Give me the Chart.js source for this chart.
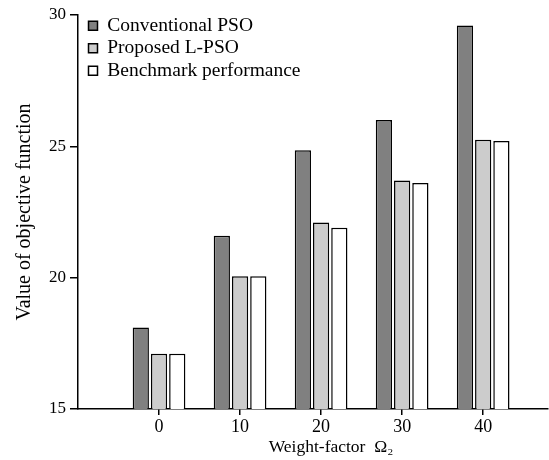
<!DOCTYPE html>
<html>
<head>
<meta charset="utf-8">
<script src="https://cdn.jsdelivr.net/npm/chart.js@4/dist/chart.umd.min.js"></script>
<style>
  body { margin: 0; background: #fff; }
  #wrap { width: 549px; height: 460px; }
</style>
</head>
<body>
<div id="wrap"><canvas id="chart" width="549" height="460"></canvas></div>
<script>
/* ---------- DATA ---------- */
let weights = [0, 10, 20, 30, 40];
let seriesNames = ["Conventional PSO", "Proposed L-PSO", "Benchmark performance"];
let conventionalPSO = [18.1, 21.6, 24.85, 26.0, 29.6];
let proposedLPSO = [17.1, 20.05, 22.1, 23.7, 25.25];
let benchmark = [17.1, 20.05, 21.9, 23.6, 25.2];
let yTicks = [15, 20, 25, 30];

let serif = "'Liberation Serif', 'Times New Roman', serif";

/* ---------- LEGEND NUDGE ---------- */
// legend sits inside the plot, below the top and a bit right of the y axis
let legendNudge = {
    id: "legendNudge",
    afterLayout(chart) {
        let lg = chart.legend;
        if (!lg) return;
        lg.left += 7.5;
        lg.right += 7.5;
        lg.top += 13;
        lg.bottom += 13;
    }
};

function barSet(label, data, fill) {
    return {
        label: label,
        data: data,
        backgroundColor: fill,
        borderColor: "#000",
        borderWidth: 1.5,
        borderSkipped: "start",
        categoryPercentage: 0.675,
        barPercentage: 0.89
    };
}

// the x title in the source sits right of the plot centre
function shiftTitle(scale) {
    if (scale._titleShifted) return;
    scale._titleShifted = true;
    let orig = scale.drawTitle;
    scale.drawTitle = function () {
        let c = this.ctx;
        c.save();
        c.translate(18, 0);
        orig.call(this);
        c.restore();
    };
}

let ctx = document.getElementById("chart").getContext("2d");

new Chart(ctx, {
    type: "bar",
    data: {
        labels: weights,
        datasets: [
            barSet(seriesNames[0], conventionalPSO, "#808080"),
            barSet(seriesNames[1], proposedLPSO, "#cccccc"),
            barSet(seriesNames[2], benchmark, "#ffffff")
        ]
    },
    options: {
        responsive: false,
        animation: false,
        layout: { padding: { top: 15, right: 1, left: 0, bottom: 0 } },
        plugins: {
            tooltip: { enabled: false },
            legend: {
                position: "chartArea",
                align: "start",
                labels: {
                    boxWidth: 9,
                    boxHeight: 9,
                    padding: 3,
                    color: "#000",
                    font: { family: serif, size: 19.5 }
                }
            }
        },
        scales: {
            x: {
                type: "linear",
                min: -10,
                max: 48,
                offset: false,
                afterBuildTicks: s => { s.ticks = weights.map(w => ({ value: w })); },
                afterFit: s => { s.height = 51; },
                afterUpdate: shiftTitle,
                border: { display: true, color: "#000", width: 1.5 },
                grid: { display: true, drawOnChartArea: false, drawTicks: true, tickLength: 6, color: "#000", lineWidth: 1.5, offset: false },
                ticks: { color: "#000", padding: 1, font: { family: serif, size: 18 } },
                title: {
                    display: true,
                    text: "Weight-factor  Ω₂",
                    color: "#000",
                    font: { family: serif, size: 17.5 },
                    padding: { top: 0, bottom: 2 }
                }
            },
            y: {
                min: 15,
                max: 30,
                beginAtZero: false,
                afterBuildTicks: s => { s.ticks = yTicks.map(v => ({ value: v })); },
                afterFit: s => { s.width = 78; },
                border: { display: true, color: "#000", width: 1.5 },
                grid: { display: true, drawOnChartArea: false, drawTicks: true, tickLength: 8, color: "#000", lineWidth: 1.5 },
                ticks: { color: "#000", padding: 4, font: { family: serif, size: 17 } },
                title: {
                    display: true,
                    text: "Value of objective function",
                    color: "#000",
                    font: { family: serif, size: 20 },
                    padding: { top: 13, bottom: 0 }
                }
            }
        }
    },
    plugins: [legendNudge]
});
</script>
</body>
</html>
